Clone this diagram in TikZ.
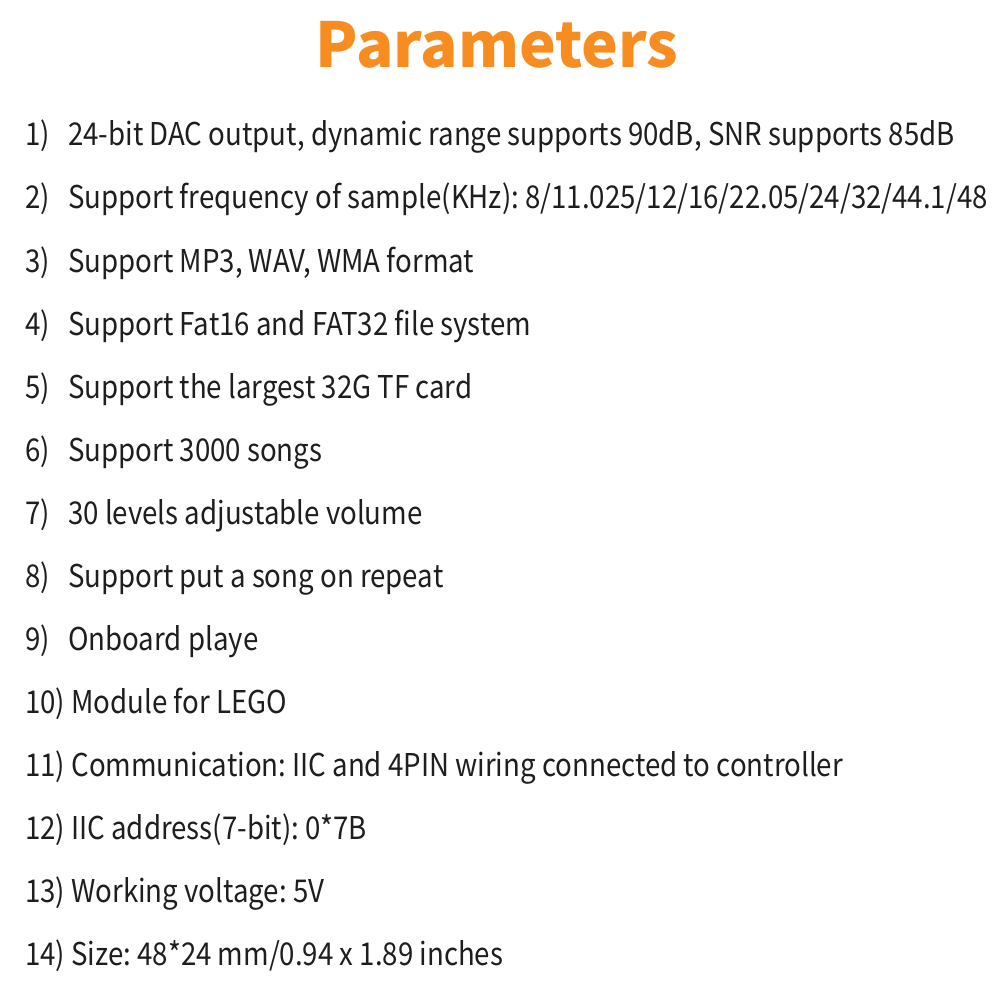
\documentclass[tikz,border=0pt]{standalone}
\usepackage{fontspec}
\setmainfont{Noto Sans CJK SC}[FakeStretch=0.88]
\newfontfamily\titlefont{Noto Sans CJK SC}
\usepackage{xcolor}
\definecolor{titleorange}{RGB}{247,140,32}
\definecolor{textgray}{RGB}{30,30,30}
\frenchspacing

\begin{document}
\begin{tikzpicture}[x=1pt,y=-1pt,
    title/.style={inner sep=0pt, anchor=base, text=titleorange, font=\titlefont\fontsize{62}{70}\selectfont\bfseries},
    num/.style={inner sep=0pt, anchor=base west, text=textgray, font=\fontsize{31.4}{36}\selectfont},
    param/.style={num}]
    \useasboundingbox (0,0) rectangle (1000,1000);
    \fill[white] (0,0) rectangle (1000,1000);

    \node[title] (head) at (497,68) {Parameters};

    % numbers 1-9
    \foreach \i in {1,...,9}{
        \node[num] (n\i) at (25,{146+63*(\i-1)}) {\i)};
    }
    \node[param] (t1) at (68,146) {24-bit DAC output, dynamic range supports 90dB, SNR supports 85dB};
    \node[param] (t2) at (68,209) {Support frequency of sample(KHz): 8/11.025/12/16/22.05/24/32/44.1/48};
    \node[param] (t3) at (68,272) {Support MP3, WAV, WMA format};
    \node[param] (t4) at (68,335) {Support Fat16 and FAT32 file system};
    \node[param] (t5) at (68,398) {Support the largest 32G TF card};
    \node[param] (t6) at (68,461) {Support 3000 songs};
    \node[param] (t7) at (68,524) {30 levels adjustable volume};
    \node[param] (t8) at (68,587) {Support put a song on repeat};
    \node[param] (t9) at (68,650) {Onboard playe};

    % numbers 10-14
    \node[param] (t10) at (25,713) {10) Module for LEGO};
    \node[param] (t11) at (25,776) {11) Communication: IIC and 4PIN wiring connected to controller};
    \node[param] (t12) at (25,839) {12) IIC address(7-bit): 0*7B};
    \node[param] (t13) at (25,902) {13) Working voltage: 5V};
    \node[param] (t14) at (25,965) {14) Size: 48*24 mm/0.94 x 1.89 inches};
\end{tikzpicture}
\end{document}
